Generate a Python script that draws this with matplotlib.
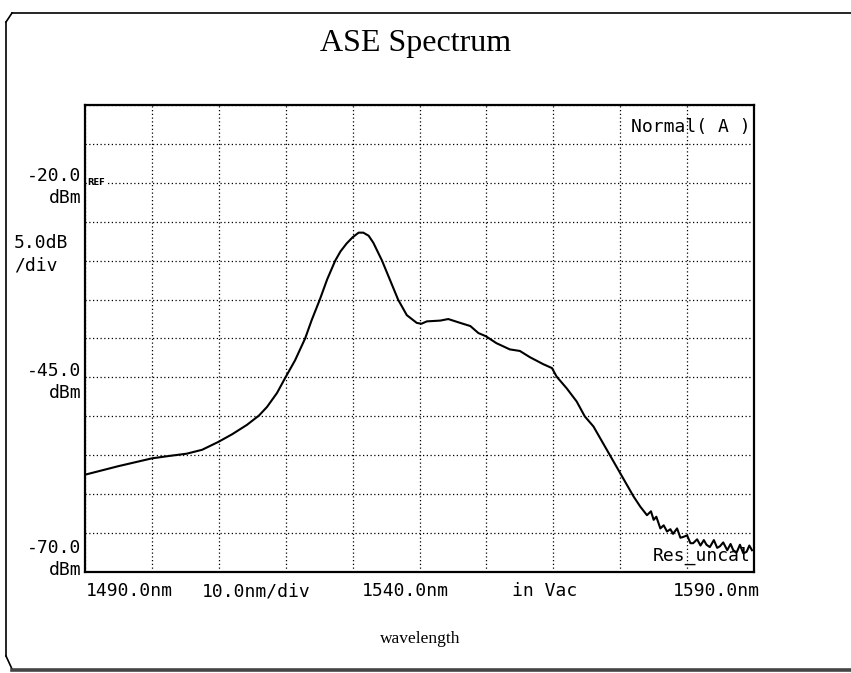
import matplotlib
matplotlib.use("Agg")
import matplotlib.pyplot as plt
from matplotlib.lines import Line2D
import numpy as np

# ---- data ----
wavelength_nm = [
    1490.0, 1495.0, 1500.0, 1502.5, 1505.2, 1507.5, 1509.9, 1512.0, 1514.2, 1516.0,
    1517.2, 1518.7, 1519.9, 1521.4, 1522.9, 1523.9, 1525.1, 1526.2, 1527.4, 1528.2,
    1529.1, 1530.0, 1530.9, 1531.6, 1532.4, 1533.1, 1534.4, 1535.6, 1536.8, 1538.1,
    1539.6, 1540.3, 1541.1, 1543.1, 1544.3, 1546.1, 1547.6, 1548.8, 1549.9, 1551.5,
    1553.5, 1555.0, 1556.5, 1558.5, 1559.8, 1560.5, 1562.0, 1563.5, 1564.7, 1566.0,
    1568.0, 1570.0, 1572.0, 1573.0, 1574.0, 1574.6, 1575.0, 1575.4, 1576.0, 1576.5,
    1577.0, 1577.5, 1577.9, 1578.5, 1579.0, 1579.4, 1580.0, 1580.5, 1580.9, 1581.5,
    1582.0, 1582.5, 1582.9, 1583.4, 1584.0, 1584.5, 1584.9, 1585.4, 1586.0, 1586.5,
    1586.9, 1587.4, 1587.9, 1588.4, 1588.9, 1589.3, 1589.7]
power_dbm = [
    -57.5, -56.4, -55.4, -55.1, -54.8, -54.3, -53.3, -52.3, -51.1, -49.9,
    -48.8, -47.0, -45.1, -42.8, -40.0, -37.6, -35.0, -32.4, -30.0, -28.8,
    -27.8, -27.0, -26.4, -26.4, -26.8, -27.7, -30.0, -32.5, -35.0, -37.0,
    -38.0, -38.1, -37.8, -37.7, -37.5, -38.0, -38.4, -39.3, -39.7, -40.6,
    -41.4, -41.6, -42.4, -43.3, -43.8, -44.9, -46.4, -48.1, -50.0, -51.3,
    -54.3, -57.3, -60.3, -61.6, -62.7, -62.2, -63.3, -62.9, -64.4, -64.0,
    -64.8, -64.5, -65.1, -64.4, -65.6, -65.5, -65.3, -66.3, -66.3, -65.8,
    -66.6, -65.9, -66.5, -66.8, -65.9, -66.9, -66.7, -66.2, -67.2, -66.4,
    -67.2, -67.5, -66.5, -67.6, -67.4, -66.6, -67.2]

x_start, x_stop, x_div = 1490.0, 1590.0, 10.0
y_top, y_bottom, y_div = -10.0, -70.0, 5.0

title = "ASE Spectrum"
xlabel = "wavelength"
x_texts = ["1490.0nm", "10.0nm/div", "1540.0nm", "in Vac", "1590.0nm"]
y_texts = [("-20.0", "dBm"), ("-45.0", "dBm"), ("-70.0", "dBm")]

W, H = 851, 673
fig = plt.figure(figsize=(W / 100, H / 100), dpi=100)
fx = lambda px: px / W
fy = lambda py: 1 - py / H

ax = fig.add_axes([fx(85), fy(572), fx(754) - fx(85), fy(105) - fy(572)])
ax.plot(wavelength_nm, power_dbm, color="black", lw=1.5)
ax.set_xlim(x_start, x_stop)
ax.set_ylim(y_bottom, y_top)
ax.set_xticks(np.arange(x_start, x_stop + 0.1, x_div))
ax.set_yticks(np.arange(y_bottom, y_top + 0.1, y_div))
ax.grid(True, color="black", linestyle=(0, (1, 2)), linewidth=0.9)
ax.tick_params(length=0, labelbottom=False, labelleft=False)
for s in ax.spines.values():
    s.set_linewidth(1.6)
    s.set_color("black")

mono = "DejaVu Sans Mono"
fs = 13
ax.text(0.995, 0.952, "Normal( A )", transform=ax.transAxes, ha="right",
        va="center", family=mono, fontsize=fs)
ax.text(0.995, 0.035, "Res_uncal", transform=ax.transAxes, ha="right",
        va="center", family=mono, fontsize=fs, zorder=1)
ax.text(1490.4, -20.0, "REF", ha="left", va="center", fontsize=6,
        fontweight="bold", family="DejaVu Sans",
        bbox=dict(facecolor="white", edgecolor="none", pad=0.5))

# y-side labels
ypos = {"-20.0": 176, "-45.0": 371, "-70.0": 548}
for val, unit in y_texts:
    yy = ypos[val]
    fig.text(fx(81), fy(yy), val, ha="right", va="center", family=mono, fontsize=fs)
    fig.text(fx(81), fy(yy + 22), unit, ha="right", va="center", family=mono, fontsize=fs)
fig.text(fx(14), fy(243), "5.0dB", ha="left", va="center", family=mono, fontsize=fs)
fig.text(fx(14), fy(266), "/div", ha="left", va="center", family=mono, fontsize=fs)

# x-side labels
xpos = [(86, "left"), (256, "center"), (405, "center"), (545, "center"), (760, "right")]
for (px, ha), t in zip(xpos, x_texts):
    fig.text(fx(px), fy(591), t, ha=ha, va="center", family=mono, fontsize=fs)

fig.text(fx(416), fy(43), title, ha="center", va="center",
         family="Liberation Serif", fontsize=23)
fig.text(fx(420), fy(639), xlabel, ha="center", va="center",
         family="Liberation Serif", fontsize=12.5)

# outer frame (top, left, bottom with bevelled corners)
frame = [
    Line2D([fx(12), fx(851)], [fy(13), fy(13)], color="black", lw=1.2),
    Line2D([fx(6), fx(12)], [fy(22), fy(13)], color="black", lw=1.2),
    Line2D([fx(6), fx(6)], [fy(22), fy(656)], color="black", lw=1.2),
    Line2D([fx(6), fx(12)], [fy(656), fy(669)], color="black", lw=1.2),
    Line2D([fx(12), fx(851)], [fy(669.5), fy(669.5)], color="#444444", lw=2.6),
]
for ln in frame:
    fig.add_artist(ln)

fig.savefig("out.png", dpi=100, facecolor="white")
